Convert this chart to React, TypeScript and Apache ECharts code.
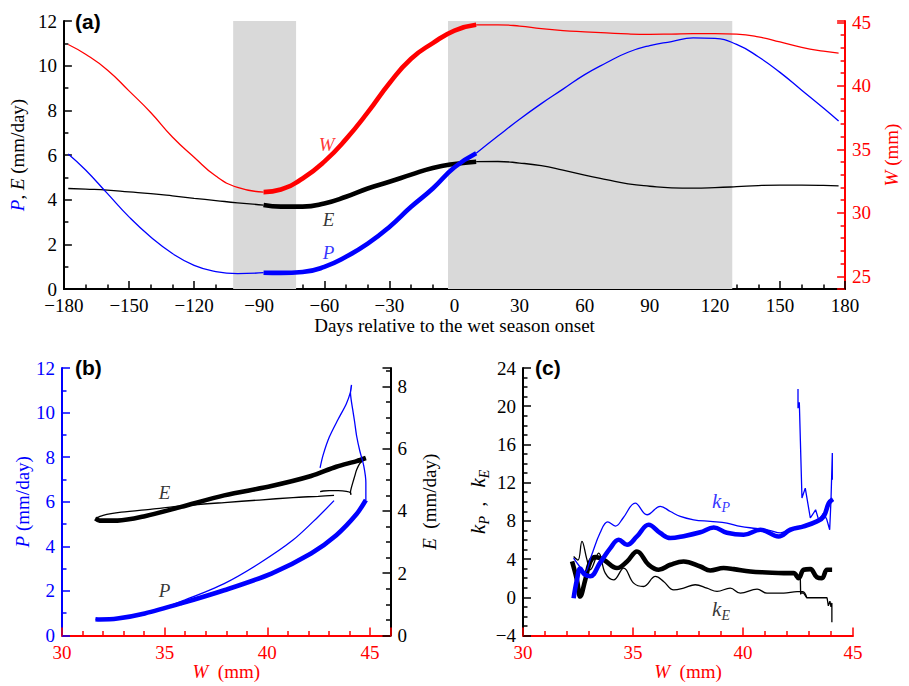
import React, { useEffect, useRef } from 'react';
import * as echarts from 'echarts';

// ---------- Panel (a): composite seasonal cycle ----------
const DAYS = [-178,-170,-160,-150,-140,-130,-120,-110,-100,-88,-80,-70,-60,-50,-40,-30,-20,-10,0,10,20,30,40,50,60,70,80,90,100,110,120,130,140,150,160,170,177];
const PRECIP = [6.05,5.33,4.28,3.23,2.33,1.59,1.06,0.78,0.69,0.73,0.72,0.76,0.99,1.44,2.03,2.78,3.68,4.5,5.45,6.08,6.85,7.6,8.3,8.95,9.6,10.13,10.6,10.9,11.08,11.24,11.22,10.95,10.4,9.7,8.9,8.1,7.52];
const EVAP = [4.5,4.47,4.43,4.35,4.27,4.17,4.06,3.96,3.86,3.76,3.69,3.69,3.83,4.13,4.5,4.8,5.12,5.42,5.6,5.7,5.71,5.64,5.52,5.32,5.1,4.9,4.71,4.6,4.53,4.52,4.54,4.58,4.63,4.65,4.65,4.64,4.62];
const PWAT = [43.25,42.48,41.25,39.6,37.9,35.97,34.38,32.89,32.0,31.63,31.83,32.7,34.03,35.8,37.9,40.2,42.13,43.36,44.35,44.8,44.8,44.7,44.5,44.35,44.25,44.16,44.08,44.05,44.07,44.1,44.1,44.06,43.85,43.45,43.02,42.72,42.57];
const THICK_START = -88;
const THICK_END = 10;
const SHADE_1 = [-102, -73];
const SHADE_2 = [-3, 128];
const DAY_TICKS = { min: -180, max: 180, step: 30 };

// ---------- Panel (c): kP and kE against W ----------
const KP_THICK_W = [32.3,32.45,32.6,32.8,33.06,33.5,33.97,34.35,34.73,35.18,35.71,36.24,36.7,37.3,38.06,38.67,39.27,40.03,40.79,41.62,42.15,42.76,43.36,43.67,43.9,44.09];
const KP_THICK_K = [-0.1,1.8,3.0,2.4,2.2,3.6,5.15,6.02,5.5,6.37,7.59,6.72,6.2,6.4,6.8,7.3,6.75,6.54,7.07,6.37,7.07,7.42,7.94,8.46,9.86,10.28];
const KP_DRY_W = [32.3,32.55,32.8,33.1,33.5,33.85,34.2,34.55,35.1,35.64,36.24,36.7,37.15,37.76,38.51,39.27,39.88,40.6,41.2,41.7,42.2,42.6,43.0];
const KP_DRY_K = [4.1,3.3,2.6,4.3,6.72,7.9,7.45,8.3,9.86,8.64,9.51,8.98,8.46,8.11,7.94,7.77,7.42,7.2,7.0,6.75,7.2,7.45,7.7];
const KP_WET_W = [44.06,44.06,44.0,43.94,43.8,43.66,43.44,43.3,43.06,42.83,42.68,42.56,42.5,42.5];
const KP_WET_K = [12.3,15.1,10.2,7.07,8.2,8.8,8.1,9.16,8.3,11.43,10.4,20.4,19.8,21.8];
const KE_THICK_W = [32.23,32.45,32.6,32.83,33.06,33.29,33.67,34.27,34.73,35.18,35.71,36.17,36.7,37.3,38.06,38.51,39.12,39.58,40.33,41.09,41.85,42.3,42.53,42.76,43.06,43.36,43.59,43.82,44.05];
const KE_THICK_K = [3.75,1.83,0.08,1.83,3.75,4.2,3.92,3.06,3.75,4.8,3.4,2.88,3.4,3.75,3.22,2.8,3.06,2.95,2.7,2.6,2.53,2.53,2.0,2.88,2.95,2.1,2.0,2.88,2.88];
const KE_DRY_W = [32.3,32.5,32.68,32.9,33.06,33.44,33.74,34.12,34.58,35.03,35.48,36.02,36.39,36.85,37.3,37.83,38.36,38.82,39.42,39.88,40.64,41.09,41.85,42.46,42.72,42.9];
const KE_DRY_K = [4.27,3.9,5.85,4.0,2.88,4.62,2.53,1.83,3.05,1.48,1.13,2.18,1.66,0.78,0.96,1.31,0.96,0.61,0.96,0.43,0.85,0.43,0.43,0.6,0.6,-0.05];
const KE_WET_W = [44.04,44.04,44.0,43.95,43.88,43.82,42.9,42.75,42.62,42.6,42.62];
const KE_WET_K = [-2.6,-0.6,-1.0,-0.4,-0.9,-0.05,-0.05,0.45,0.45,2.6,0.3];

// ---------- Annotation anchors (data coordinates) ----------
const ANNOT_A = [
  { name: '{wr|W}', value: [-58.9, 6.45] },
  { name: '{ek|E}', value: [-58, 3.09] },
  { name: '{pb|P}', value: [-58, 1.62] },
];
const ANNOT_B = [
  { name: '{ek|E}', value: [35.0, 6.4] },
  { name: '{pk|P}', value: [35.0, 2.0] },
];
const ANNOT_C = [
  { name: '{kb|k}{sb|P}', value: [39.0, 10.0] },
  { name: '{kk|k}{sk|E}', value: [39.0, -1.3] },
];

const SERIF = 'Liberation Serif';
const BLUE = '#0000ff';
const RED = '#ff0000';
const BLACK = '#000000';
const SHADE = '#d9d9d9';
const THIN = 1.3;
const THICK = 4.6;

const zip = (a: number[], b: number[]) => a.map((v, i) => [v, b[i]]);
const pick = (xs: number[], ys: number[], lo: number, hi: number) =>
  DAYS.map((d, i) => ({ d, p: [xs[i], ys[i]] })).filter((o) => o.d >= lo && o.d <= hi).map((o) => o.p);
const minus = (v: number) => (v < 0 ? '\u2212' + Math.abs(v) : String(v));

const rich: any = {
  pb: { fontFamily: SERIF, fontStyle: 'italic', fontSize: 19, color: BLUE },
  pk: { fontFamily: SERIF, fontStyle: 'italic', fontSize: 19, color: BLACK },
  ek: { fontFamily: SERIF, fontStyle: 'italic', fontSize: 19, color: BLACK },
  wr: { fontFamily: SERIF, fontStyle: 'italic', fontSize: 19, color: RED },
  nk: { fontFamily: SERIF, fontSize: 19, color: BLACK },
  nb: { fontFamily: SERIF, fontSize: 19, color: BLUE },
  nr: { fontFamily: SERIF, fontSize: 19, color: RED },
  kb: { fontFamily: SERIF, fontStyle: 'italic', fontSize: 21, color: BLUE, verticalAlign: 'top', lineHeight: 22 },
  sb: { fontFamily: SERIF, fontStyle: 'italic', fontSize: 14, color: BLUE, verticalAlign: 'top', lineHeight: 14, padding: [10, 0, 0, 0] },
  kk: { fontFamily: SERIF, fontStyle: 'italic', fontSize: 21, color: BLACK, verticalAlign: 'top', lineHeight: 22 },
  sk: { fontFamily: SERIF, fontStyle: 'italic', fontSize: 14, color: BLACK, verticalAlign: 'top', lineHeight: 14, padding: [10, 0, 0, 0] },
};

function labelStyle(color: string, extra: any = {}) {
  return {
    color,
    fontFamily: SERIF,
    fontSize: 19,
    margin: 7,
    formatter: (v: number) => '{t|' + minus(v) + '}',
    rich: { t: { fontFamily: SERIF, fontSize: 19, color } },
    ...extra,
  };
}

function axisStyle(color: string, split: number) {
  return {
    axisLine: { show: true, onZero: false, lineStyle: { color, width: 2 } },
    axisTick: { show: true, inside: true, length: 8, lineStyle: { color, width: 1.5 } },
    minorTick: { show: true, splitNumber: split, length: 4.5, lineStyle: { color, width: 1.5 } },
    splitLine: { show: false },
    minorSplitLine: { show: false },
    axisLabel: labelStyle(color),
  };
}

function line(data: number[][], color: string, width: number, xi: number, yi: number, smooth: number | boolean = true) {
  return {
    type: 'line',
    xAxisIndex: xi,
    yAxisIndex: yi,
    data,
    showSymbol: false,
    symbol: 'none',
    smooth,
    silent: true,
    z: 3,
    lineStyle: { color, width },
  };
}

function annot(data: any[], xi: number, yi: number) {
  return {
    type: 'scatter',
    xAxisIndex: xi,
    yAxisIndex: yi,
    symbolSize: 1,
    silent: true,
    z: 5,
    itemStyle: { color: 'rgba(0,0,0,0)' },
    label: { show: true, position: 'inside', formatter: (p: any) => p.name, rich },
    data,
  };
}

export default function App() {
  const ref = useRef<HTMLDivElement>(null);
  useEffect(() => {
    if (!ref.current) return;
    const chart = echarts.init(ref.current, undefined, { renderer: 'svg' });
    const nameStyle = { fontFamily: SERIF, fontSize: 19, color: BLACK, rich };

    const option: any = {
      animation: false,
      backgroundColor: '#ffffff',
      textStyle: { fontFamily: SERIF },
      grid: [
        { left: 62, top: 21, width: 791, height: 268 },
        { left: 62, top: 368, width: 328.5, height: 267.5 },
        { left: 523, top: 368, width: 330, height: 267.5 },
      ],
      xAxis: [
        {
          type: 'value', gridIndex: 0, min: DAY_TICKS.min, max: DAY_TICKS.max, interval: DAY_TICKS.step,
          ...axisStyle(BLACK, 3),
          name: 'Days relative to the wet season onset', nameLocation: 'middle', nameGap: 27,
          nameTextStyle: nameStyle,
        },
        {
          type: 'value', gridIndex: 1, min: 30, max: 46, minInterval: 5, maxInterval: 5,
          ...axisStyle(RED, 5),
          axisLabel: labelStyle(RED, { showMaxLabel: false }),
          name: '{wr|W}{nr|  (mm)}', nameLocation: 'middle', nameGap: 26, nameTextStyle: { ...nameStyle, color: RED },
        },
        {
          type: 'value', gridIndex: 2, min: 30, max: 45, interval: 5,
          ...axisStyle(RED, 5),
          name: '{wr|W}{nr|  (mm)}', nameLocation: 'middle', nameGap: 26, nameTextStyle: { ...nameStyle, color: RED },
        },
      ],
      yAxis: [
        {
          type: 'value', gridIndex: 0, position: 'left', min: 0, max: 12, interval: 2,
          ...axisStyle(BLACK, 2),
          name: '{pb|P}{nk|, }{ek|E}{nk| (mm/day)}', nameLocation: 'middle', nameRotate: 90, nameGap: 30,
          nameTextStyle: nameStyle,
        },
        {
          type: 'value', gridIndex: 0, position: 'right', min: 24, max: 45.1, minInterval: 5, maxInterval: 5,
          ...axisStyle(RED, 5),
          axisLabel: labelStyle(RED, { showMinLabel: false, showMaxLabel: false }),
          name: '{wr|W}{nr| (mm)}', nameLocation: 'middle', nameRotate: 90, nameGap: 29,
          nameTextStyle: { ...nameStyle, color: RED },
        },
        {
          type: 'value', gridIndex: 1, position: 'left', min: 0, max: 12, interval: 2,
          ...axisStyle(BLUE, 2),
          name: '{pb|P}{nb| (mm/day)}', nameLocation: 'middle', nameRotate: 90, nameGap: 30,
          nameTextStyle: { ...nameStyle, color: BLUE },
        },
        {
          type: 'value', gridIndex: 1, position: 'right', min: 0, max: 8.59, minInterval: 2, maxInterval: 2,
          ...axisStyle(BLACK, 4),
          axisLabel: labelStyle(BLACK, { showMaxLabel: false }),
          name: '{ek|E}{nk|  (mm/day)}', nameLocation: 'middle', nameRotate: 90, nameGap: 29,
          nameTextStyle: nameStyle,
        },
        {
          type: 'value', gridIndex: 2, position: 'left', min: -4, max: 24, interval: 4,
          ...axisStyle(BLACK, 4),
          name: '{kk|k}{sk|P}{nk|  ,   }{kk|k}{sk|E}', nameLocation: 'middle', nameRotate: 90, nameGap: 24,
          nameTextStyle: nameStyle,
        },
      ],
      graphic: [
        { type: 'text', left: 75, top: 11, style: { text: '(a)', font: 'bold 21px "Liberation Sans"', fill: BLACK } },
        { type: 'text', left: 75, top: 357, style: { text: '(b)', font: 'bold 21px "Liberation Sans"', fill: BLACK } },
        { type: 'text', left: 535, top: 357, style: { text: '(c)', font: 'bold 21px "Liberation Sans"', fill: BLACK } },
      ],
      series: [
        {
          type: 'line', xAxisIndex: 0, yAxisIndex: 0, data: [], z: 1, silent: true,
          markArea: {
            silent: true,
            itemStyle: { color: SHADE },
            data: [
              [{ xAxis: SHADE_1[0] }, { xAxis: SHADE_1[1] }],
              [{ xAxis: SHADE_2[0] }, { xAxis: SHADE_2[1] }],
            ],
          },
        },
        // panel (a)
        line(pick(DAYS, PWAT, -999, THICK_START), RED, THIN, 0, 1),
        line(pick(DAYS, PWAT, THICK_END, 999), RED, THIN, 0, 1),
        line(pick(DAYS, PWAT, THICK_START, THICK_END), RED, THICK, 0, 1),
        line(pick(DAYS, EVAP, -999, THICK_START), BLACK, THIN, 0, 0),
        line(pick(DAYS, EVAP, THICK_END, 999), BLACK, THIN, 0, 0),
        line(pick(DAYS, EVAP, THICK_START, THICK_END), BLACK, THICK, 0, 0),
        line(pick(DAYS, PRECIP, -999, THICK_START), BLUE, THIN, 0, 0),
        line(pick(DAYS, PRECIP, THICK_END, 999), BLUE, THIN, 0, 0),
        line(pick(DAYS, PRECIP, THICK_START, THICK_END), BLUE, THICK, 0, 0),
        annot(ANNOT_A, 0, 0),
        // panel (b)
        line(pick(PWAT, EVAP, THICK_START, THICK_END), BLACK, THICK, 1, 3, 0.3),
        line(pick(PWAT, EVAP, -999, THICK_START), BLACK, THIN, 1, 3, 0.3),
        line(pick(PWAT, EVAP, THICK_END, 999), BLACK, THIN, 1, 3, 0.3),
        line(pick(PWAT, PRECIP, THICK_START, THICK_END), BLUE, THICK, 1, 2, 0.3),
        line(pick(PWAT, PRECIP, -999, THICK_START), BLUE, THIN, 1, 2, 0.3),
        line(pick(PWAT, PRECIP, THICK_END, 999), BLUE, THIN, 1, 2, 0.3),
        annot(ANNOT_B, 1, 2),
        // panel (c)
        line(zip(KE_THICK_W, KE_THICK_K), BLACK, THICK, 2, 4, 0.4),
        line(zip(KE_DRY_W, KE_DRY_K), BLACK, THIN, 2, 4, 0.4),
        line(zip(KE_WET_W, KE_WET_K), BLACK, THIN, 2, 4, false),
        line(zip(KP_THICK_W, KP_THICK_K), BLUE, THICK, 2, 4, 0.4),
        line(zip(KP_DRY_W, KP_DRY_K), BLUE, THIN, 2, 4, 0.4),
        line(zip(KP_WET_W, KP_WET_K), BLUE, THIN, 2, 4, false),
        annot(ANNOT_C, 2, 4),
      ],
    };
    chart.setOption(option);
    return () => chart.dispose();
  }, []);
  return (
    <div
      ref={ref}
      style={{ position: 'absolute', left: 0, top: 0, width: 909, height: 686, background: '#fff' }}
    />
  );
}
